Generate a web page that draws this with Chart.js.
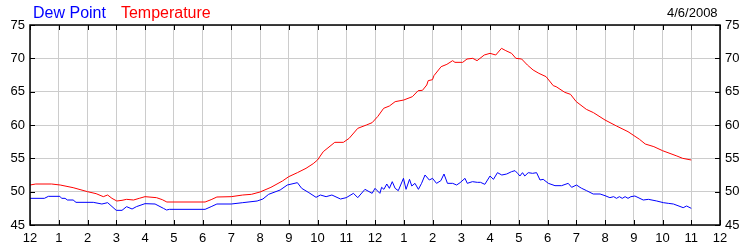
<!DOCTYPE html>
<html>
<head>
<meta charset="utf-8">
<script src="https://cdn.jsdelivr.net/npm/chart.js@4.4.1/dist/chart.umd.min.js"></script>
<style>
    html, body { margin: 0; padding: 0; background: #fff; }
    #wrap { position: relative; width: 750px; height: 250px; font-family: "Liberation Sans", Arial, sans-serif; }
    #legend { position: absolute; left: 33px; top: 4px; font-size: 16px; white-space: nowrap; }
    #legend span { margin-right: 15px; }
    #date { position: absolute; left: 667px; top: 5px; font-size: 13px; color: #000; }
    canvas { position: absolute; left: 0; top: 0; }
</style>
</head>
<body>
<div id="wrap">
    <canvas id="chart" width="750" height="250"></canvas>
    <div id="legend"><span style="color:#0000ff">Dew Point</span><span style="color:#ff0000">Temperature</span></div>
    <div id="date">4/6/2008</div>
</div>
<script>
// ── Data (hours since midnight, °F) ─────────────────────────────
const tempHours = [0, 0.2, 0.75, 1.05, 1.5, 2.0, 2.3, 2.55, 2.7, 2.85, 3.02, 3.2, 3.36, 3.6, 3.8, 4.0, 4.4, 4.6, 4.76,
    6.09, 6.3, 6.5, 7.0, 7.4, 7.7, 8.0, 8.38, 8.78, 9.0, 9.3, 9.6, 9.85, 10.0, 10.2, 10.4, 10.6, 10.9, 11.1, 11.4,
    11.7, 11.9, 12.1, 12.3, 12.5, 12.7, 13.0, 13.3, 13.5, 13.65, 13.8, 13.85, 14.0, 14.05, 14.3, 14.5, 14.7, 14.78,
    15.05, 15.2, 15.4, 15.55, 15.8, 16.0, 16.2, 16.4, 16.55, 16.75, 16.9, 17.1, 17.3, 17.5, 17.7, 17.95, 18.2, 18.3,
    18.6, 18.8, 19.0, 19.35, 19.6, 20.0, 20.4, 20.8, 21.2, 21.4, 21.7, 22.0, 22.5, 22.7, 23.0];
const tempValues = [51.0, 51.15, 51.15, 51.0, 50.6, 50.0, 49.7, 49.25, 49.5, 49.0, 48.6, 48.7, 48.85, 48.75, 49.0, 49.25, 49.1, 48.8, 48.45,
    48.45, 48.8, 49.2, 49.25, 49.5, 49.6, 49.95, 50.65, 51.6, 52.25, 52.85, 53.5, 54.2, 54.75, 56.0, 56.7, 57.4, 57.4, 58.0, 59.5,
    60.0, 60.35, 61.3, 62.5, 62.85, 63.5, 63.75, 64.25, 65.15, 65.2, 66.0, 66.65, 66.8, 67.4, 68.75, 69.1, 69.65, 69.4,
    69.4, 69.9, 70.0, 69.65, 70.5, 70.75, 70.5, 71.5, 71.15, 70.75, 70.0, 69.9, 69.0, 68.25, 67.75, 67.25, 65.9, 65.75,
    64.9, 64.6, 63.5, 62.35, 61.85, 60.75, 59.85, 59.0, 57.85, 57.15, 56.75, 56.15, 55.35, 55.0, 54.75];

const dewHours = [0, 0.5, 0.64, 1.04, 1.1, 1.22, 1.3, 1.5, 1.6, 2.2, 2.5, 2.7, 3.0, 3.2, 3.36, 3.55, 3.7, 4.0, 4.35, 4.64,
    4.75, 4.85, 6.09, 6.3, 6.5, 7.0, 7.4, 7.9, 8.1, 8.3, 8.7, 8.95, 9.3, 9.45, 9.7, 9.95, 10.1, 10.3, 10.5, 10.8, 11.0,
    11.25, 11.4, 11.65, 11.9, 12.0, 12.17, 12.23, 12.31, 12.41, 12.5, 12.6, 12.7, 12.81, 12.99, 13.08, 13.2, 13.28,
    13.39, 13.51, 13.62, 13.74, 13.89, 14.0, 14.14, 14.29, 14.4, 14.52, 14.7, 14.84, 14.96, 15.13, 15.21, 15.39,
    15.56, 15.67, 15.82, 16.0, 16.12, 16.26, 16.41, 16.58, 16.75, 16.87, 16.96, 17.04, 17.13, 17.21, 17.33, 17.48,
    17.62, 17.74, 17.85, 18.03, 18.26, 18.49, 18.72, 18.84, 19.01, 19.13, 19.19, 19.36, 19.59, 19.83, 20.0, 20.17,
    20.3, 20.4, 20.5, 20.6, 20.7, 20.8, 20.9, 21.04, 21.33, 21.51, 21.8, 22.03, 22.2, 22.38, 22.72, 22.84, 23.0];
const dewValues = [49.0, 49.0, 49.3, 49.3, 49.0, 49.0, 48.75, 48.75, 48.4, 48.4, 48.15, 48.35, 47.2, 47.2, 47.75, 47.4, 47.75, 48.2, 48.15, 47.5,
    47.25, 47.35, 47.35, 47.75, 48.15, 48.15, 48.35, 48.6, 48.9, 49.6, 50.25, 51.0, 51.35, 50.5, 49.85, 49.15, 49.5, 49.25, 49.5, 48.9, 49.1,
    49.75, 49.1, 50.35, 49.75, 50.5, 49.75, 50.65, 50.35, 51.15, 50.5, 51.5, 50.5, 50.15, 52.0, 50.35, 51.85, 50.85,
    51.25, 50.35, 51.25, 52.5, 51.75, 52.0, 51.25, 51.65, 52.65, 51.25, 51.25, 51.0, 51.35, 52.0, 51.25, 51.5,
    51.4, 51.4, 51.1, 52.35, 51.85, 52.85, 52.5, 52.65, 53.0, 53.15, 52.75, 52.35, 52.85, 52.35, 52.85, 52.75,
    52.85, 51.75, 51.85, 51.25, 50.9, 50.9, 51.25, 50.65, 51.0, 50.65, 50.5, 50.15, 49.65, 49.65, 49.4, 49.1,
    49.25, 49.0, 49.25, 49.0, 49.25, 49.0, 49.25, 49.35, 48.75, 48.85, 48.6, 48.35, 48.25, 48.15, 47.6, 47.85, 47.5];

const hourTicks = [0, 1, 2, 3, 4, 5, 6, 7, 8, 9, 10, 11, 12, 13, 14, 15, 16, 17, 18, 19, 20, 21, 22, 23, 24];
const yTicks = [45, 50, 55, 60, 65, 70, 75];

function pairs(xs, ys) {
    return xs.map((x, i) => ({ x, y: ys[i] }));
}

// Inward tick marks + black frame, like the original weather plot
const frameTicks = {
    id: 'frameTicks',
    afterDraw(chart) {
        const { ctx, chartArea: a, scales } = chart;
        ctx.save();
        ctx.strokeStyle = '#000';
        ctx.lineWidth = 1;
        ctx.beginPath();
        hourTicks.forEach(h => {
            const x = Math.round(scales.x.getPixelForValue(h)) + 0.5;
            ctx.moveTo(x, a.top); ctx.lineTo(x, a.top + 5);
            ctx.moveTo(x, a.bottom); ctx.lineTo(x, a.bottom - 5);
        });
        yTicks.forEach(v => {
            const y = Math.round(scales.y.getPixelForValue(v)) + 0.5;
            ctx.moveTo(a.left, y); ctx.lineTo(a.left + 5, y);
            ctx.moveTo(a.right, y); ctx.lineTo(a.right - 5, y);
        });
        ctx.stroke();
        ctx.lineWidth = 1.5;
        ctx.strokeRect(a.left, a.top, a.right - a.left, a.bottom - a.top);
        ctx.restore();
    },
};

const tickFont = { family: '"Liberation Sans", Arial, sans-serif', size: 13 };

new Chart(document.getElementById('chart'), {
    type: 'line',
    data: {
        datasets: [
            {
                label: 'Temperature',
                data: pairs(tempHours, tempValues),
                borderColor: '#ff0000',
                borderWidth: 1,
                pointRadius: 0,
                tension: 0,
                fill: false,
            },
            {
                label: 'Dew Point',
                data: pairs(dewHours, dewValues),
                borderColor: '#0000ff',
                borderWidth: 1,
                pointRadius: 0,
                tension: 0,
                fill: false,
            },
        ],
    },
    options: {
        responsive: false,
        animation: false,
        events: [],
        layout: { padding: { top: 25, left: 0, right: 0, bottom: 0 } },
        plugins: { legend: { display: false }, tooltip: { enabled: false } },
        scales: {
            x: {
                type: 'linear',
                min: 0, max: 24,
                afterBuildTicks: s => { s.ticks = hourTicks.map(v => ({ value: v })); },
                afterFit: s => { s.height = 25; },
                ticks: {
                    color: '#000', font: tickFont, padding: 6, maxRotation: 0,
                    callback: v => (v % 12 === 0 ? 12 : v % 12),
                },
                grid: { color: '#cccccc', drawTicks: false },
                border: { display: false },
            },
            y: {
                position: 'left',
                min: 45, max: 75,
                afterBuildTicks: s => { s.ticks = yTicks.map(v => ({ value: v })); },
                afterFit: s => { s.width = 30; },
                ticks: { color: '#000', font: tickFont, padding: 5 },
                grid: { color: '#cccccc', drawTicks: false },
                border: { display: false },
            },
            y2: {
                position: 'right',
                min: 45, max: 75,
                afterBuildTicks: s => { s.ticks = yTicks.map(v => ({ value: v })); },
                afterFit: s => { s.width = 30; },
                ticks: { color: '#000', font: tickFont, padding: 5 },
                grid: { drawOnChartArea: false, drawTicks: false },
                border: { display: false },
            },
        },
    },
    plugins: [frameTicks],
});
</script>
</body>
</html>
